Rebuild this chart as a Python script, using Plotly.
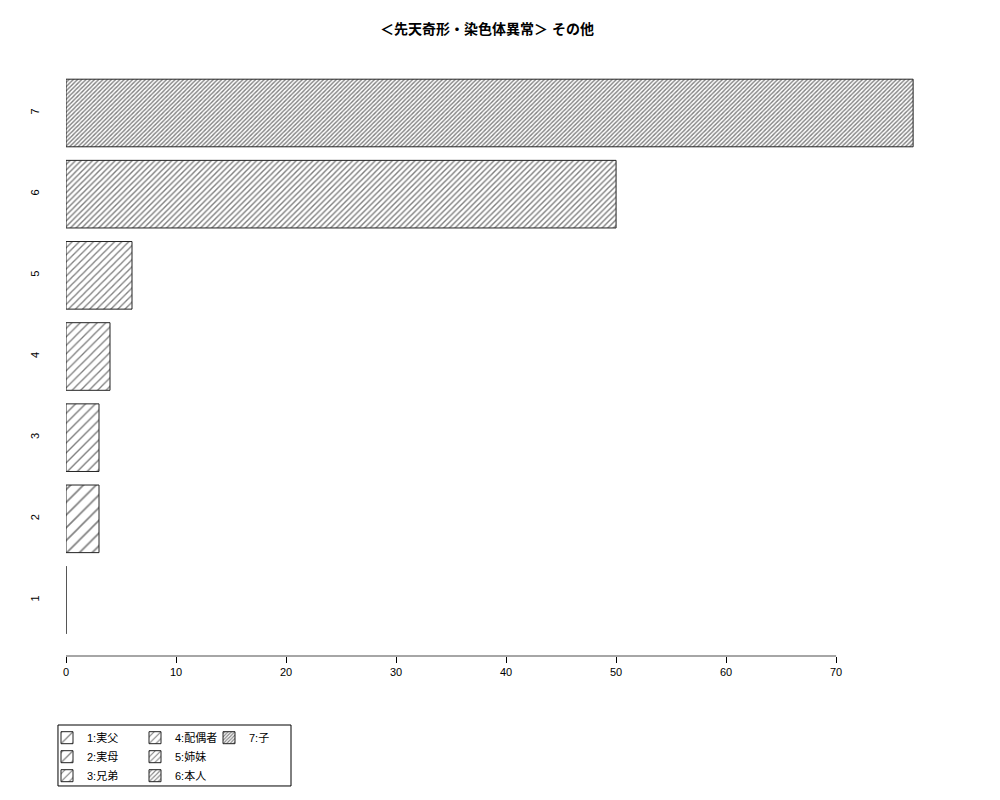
import plotly.graph_objects as go

# Data
categories = ['1', '2', '3', '4', '5', '6', '7']
values = [0, 3, 3, 4, 6, 50, 77]
legend_labels = ['1:実父', '2:実母', '3:兄弟', '4:配偶者', '5:姉妹', '6:本人', '7:子']
x_ticks = [0, 10, 20, 30, 40, 50, 60, 70]

hatch_size = [10, 9, 7, 6, 5, 4, 3]
hatch_solid = [0.15, 0.18, 0.2, 0.22, 0.26, 0.35, 0.45]
legend_of = ['legend', 'legend', 'legend', 'legend2', 'legend2', 'legend2', 'legend3']

fig = go.Figure()

for i, cat in enumerate(categories):
    fig.add_trace(go.Bar(
        y=[i + 1], x=[values[i]],
        orientation='h',
        name=legend_labels[i],
        width=0.833,
        legend=legend_of[i],
        marker=dict(
            color='white',
            line=dict(color='#222222', width=1),
            pattern=dict(shape='/', size=hatch_size[i], solidity=hatch_solid[i],
                         fgcolor='#000000', bgcolor='white'),
        ),
    ))

# zero-length bar is not drawn by plotly, show its edge as in R
fig.add_trace(go.Scatter(
    x=[values[0], values[0]], y=[0.5833, 1.4167],
    mode='lines', line=dict(color='#555555', width=1),
    showlegend=False, hoverinfo='skip',
))

font_family = 'Liberation Sans, Noto Sans CJK JP'
legend_font = dict(family=font_family, size=11, color='black')
leg_common = dict(font=legend_font, bgcolor='rgba(0,0,0,0)', borderwidth=0,
                  tracegroupgap=0, itemwidth=30, yanchor='top', xanchor='left',
                  xref='container', yref='container')

fig.update_layout(
    width=1000, height=800,
    paper_bgcolor='white', plot_bgcolor='white',
    # page body adds 8px, so margins are shifted by that
    margin=dict(l=58, r=61, t=49, b=152, autoexpand=False),
    font=dict(family=font_family, size=11, color='black'),
    title=dict(text='<b>＜先天奇形・染色体異常＞ その他</b>', x=0.479, xanchor='center',
               y=0.974, yanchor='middle', xref='container', yref='container',
               font=dict(size=14, family=font_family)),
    xaxis=dict(range=[0, 80.08], tickvals=x_ticks, showgrid=False, zeroline=False,
               showline=False, ticks='outside', ticklen=6, tickcolor='black',
               tickfont=dict(size=11), fixedrange=True),
    yaxis=dict(range=[0.31, 7.69], tickvals=[1, 2, 3, 4, 5, 6, 7],
               ticktext=categories, tickangle=-90, showgrid=False, zeroline=False,
               showline=False, ticks='outside', ticklen=22, tickcolor='rgba(0,0,0,0)',
               tickfont=dict(size=11)),
    legend=dict(x=0.039, y=0.106, **leg_common),
    legend2=dict(x=0.127, y=0.106, **leg_common),
    legend3=dict(x=0.201, y=0.106, **leg_common),
    showlegend=True,
)

# x axis line only spans the tick range, as in R
fig.add_shape(type='line', xref='x', yref='paper', x0=x_ticks[0], x1=x_ticks[-1],
              y0=0, y1=0, line=dict(color='#888888', width=1.5))
# legend box
fig.add_shape(type='rect', xref='paper', yref='paper', x0=-0.0091, x1=0.2554,
              y0=-0.2170, y1=-0.1152, line=dict(color='black', width=1))

fig.write_html('out.html')
